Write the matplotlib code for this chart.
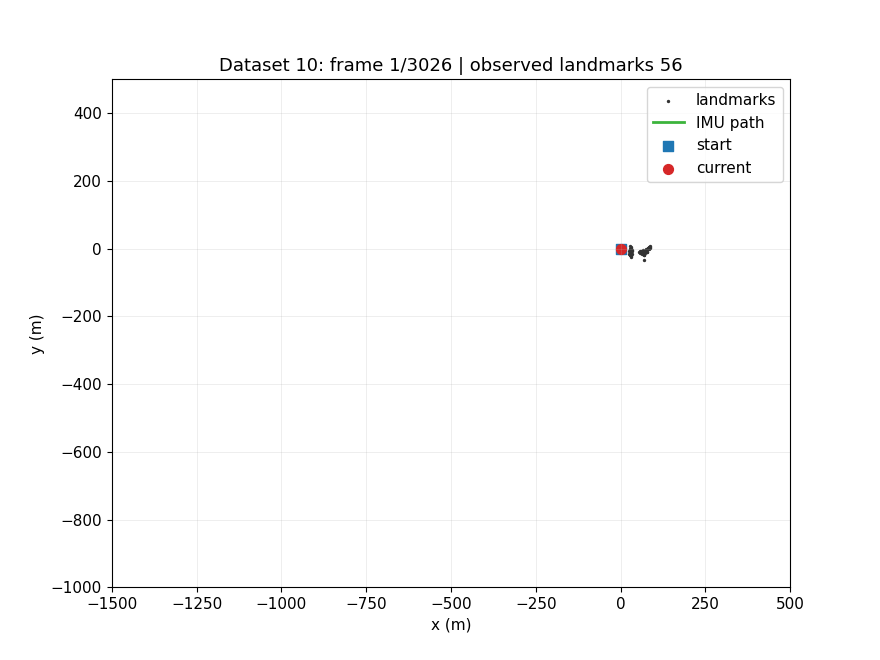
import numpy as np
import matplotlib
matplotlib.use("Agg")
import matplotlib.pyplot as plt

lm_x = [28, 30, 31, 29, 32, 33, 30, 28, 31, 34, 29, 27, 32, 30, 26, 33,
        25, 29, 31, 28, 55, 58, 60, 62, 57, 63, 65, 66, 68, 70, 72, 67,
        64, 69, 71, 73, 74, 75, 76, 78, 80, 82, 84, 86, 88, 85, 87, 68,
        61, 59, 70, 66, 72, 77, 79, 83]
lm_y = [8, 5, 2, -2, -5, -8, -10, -12, -14, -16, -18, -20, -22, -24, -15, -3,
        -6, 0, -19, -9, -10, -8, -12, -11, -13, -9, -7, -14, -15, -12, -10, -5,
        -16, -18, -8, -6, -4, -3, -2, 0, 1, 3, 5, 6, 8, 4, 2, -35,
        -6, -14, -20, -17, -13, -11, -9, -1]
imu_x = [0, 0]
imu_y = [0, 0]
start = (0, 0)
current = (0, 0)

plt.rcParams["font.size"] = 11

fig, ax = plt.subplots(figsize=(8.8, 6.6), dpi=100)
ax.scatter(lm_x, lm_y, s=2, c="#333333", label="landmarks")
ax.plot(imu_x, imu_y, color="#3cb43c", lw=2, label="IMU path")
ax.scatter(*start, marker="s", s=60, c="#1f77b4", label="start")
ax.scatter(*current, marker="o", s=50, c="#d62728", label="current")
ax.set_xlim(-1500, 500)
ax.set_ylim(-1000, 500)
ax.grid(True, alpha=0.25, lw=0.6)
ax.set_xlabel("x (m)")
ax.set_ylabel("y (m)")
ax.set_title("Dataset 10: frame 1/3026 | observed landmarks 56", fontsize=13)
ax.legend(loc="upper right")
fig.subplots_adjust(left=0.127, right=0.898, bottom=0.11, top=0.88)
fig.savefig("out.png")
